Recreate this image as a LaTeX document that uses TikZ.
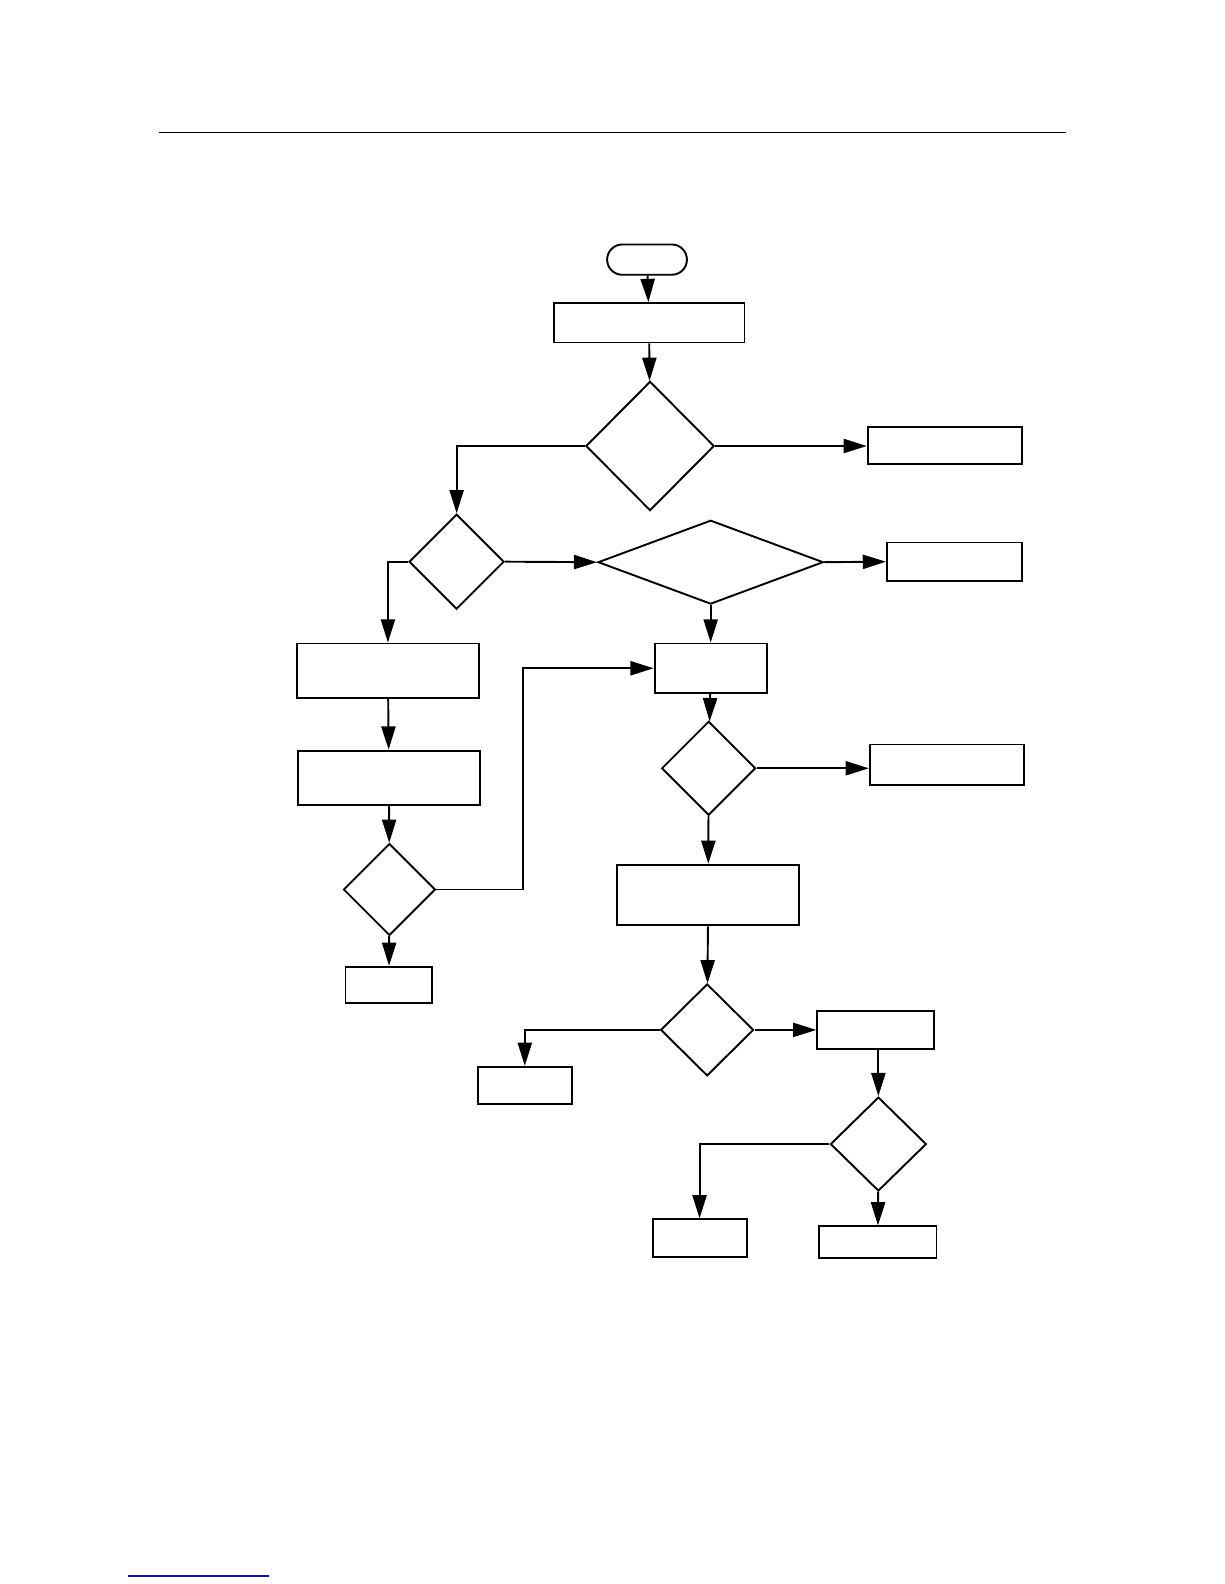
\documentclass[tikz,border=0pt]{standalone}
\usetikzlibrary{shapes.geometric,arrows.meta}
\begin{document}
\begin{tikzpicture}[x=0.5bp,y=-0.5bp,
  box/.style={draw, rectangle, line width=0.95bp, inner sep=0pt},
  test/.style={draw, diamond, line width=0.95bp, inner sep=0pt},
  flow/.style={-{Triangle[length=11.5bp,width=7bp]}, line width=0.95bp}]
\useasboundingbox (0,0) rectangle (1212,1568);
% page rules
\draw[line width=0.6bp] (157,131) -- (1055,131);
\draw[line width=0.6bp, color={rgb,255:red,20;green,20;blue,140}] (127,1560) -- (266,1560);
% top part
\node[box, rounded corners=7.5bp, minimum width=39.5bp, minimum height=15bp] (start) at (640.5,257) {};
\node[box, minimum width=94.5bp, minimum height=19.5bp] (init) at (642.5,319.5) {};
\node[test, minimum width=63.5bp, minimum height=64bp] (d1) at (643.5,441.5) {};
\node[box, minimum width=76.5bp, minimum height=18.5bp] (r1) at (935.5,441) {};
\node[test, minimum width=47bp, minimum height=47bp] (d2) at (452,556) {};
\node[test, minimum width=111.5bp, minimum height=41.5bp] (d3) at (703.5,556.5) {};
\node[box, minimum width=67bp, minimum height=19bp] (r2) at (945,556) {};
% left column
\node[box, minimum width=90bp, minimum height=27bp] (l1) at (384,664) {};
\node[box, minimum width=90bp, minimum height=27bp] (l2) at (385,770) {};
\node[test, minimum width=45.5bp, minimum height=45.5bp] (d5) at (385.5,880.5) {};
\node[box, minimum width=43bp, minimum height=18bp] (l3) at (385,975) {};
\coordinate (jog) at (518,880.5);
% middle column
\node[box, minimum width=55.5bp, minimum height=24.5bp] (m1) at (703.5,661.5) {};
\node[test, minimum width=46.5bp, minimum height=46.5bp] (d4) at (701.5,760.5) {};
\node[box, minimum width=76.5bp, minimum height=20bp] (r3) at (937.5,757) {};
\node[box, minimum width=90bp, minimum height=30bp] (m2) at (701,886) {};
% bottom part
\node[test, minimum width=46bp, minimum height=45.5bp] (d6) at (700,1019.5) {};
\node[box, minimum width=46.5bp, minimum height=18.5bp] (b1) at (519.5,1074.5) {};
\node[box, minimum width=58bp, minimum height=18.5bp] (b2) at (867,1019.5) {};
\node[test, minimum width=47.5bp, minimum height=46.5bp] (d7) at (869.5,1132.5) {};
\node[box, minimum width=46.5bp, minimum height=18.5bp] (b3) at (692.5,1225.5) {};
\node[box, minimum width=58bp, minimum height=15.5bp] (b4) at (869,1229.5) {};
% connectors
\draw[flow] (start) -- (init);
\draw[flow] (init) -- (d1);
\draw[flow] (d1.east) -- (d1.east -| r1.west);
\draw[flow] (d1.west) -| (d2.north);
\draw[flow] (d2.east) -- (d3.west);
\draw[flow] (d3.east) -- (r2.west);
\draw[flow] (d3.south) -- (m1.north);
\draw[flow] (d2.west) -| (l1.north);
\draw[flow] (l1) -- (l2);
\draw[flow] (l2) -- (d5);
\draw[flow] (d5.east) -- (jog) |- (m1.west);
\draw[flow] (d5) -- (l3);
\draw[flow] (m1) -- (d4);
\draw[flow] (d4.east) -- (d4.east -| r3.west);
\draw[flow] (d4) -- (m2);
\draw[flow] (m2) -- (d6);
\draw[flow] (d6.west) -| (b1.north);
\draw[flow] (d6.east) -- (b2.west);
\draw[flow] (d7.north |- b2.south) -- (d7.north);
\draw[flow] (d7.west) -| (b3.north);
\draw[flow] (d7) -- (b4);
\end{tikzpicture}
\end{document}
